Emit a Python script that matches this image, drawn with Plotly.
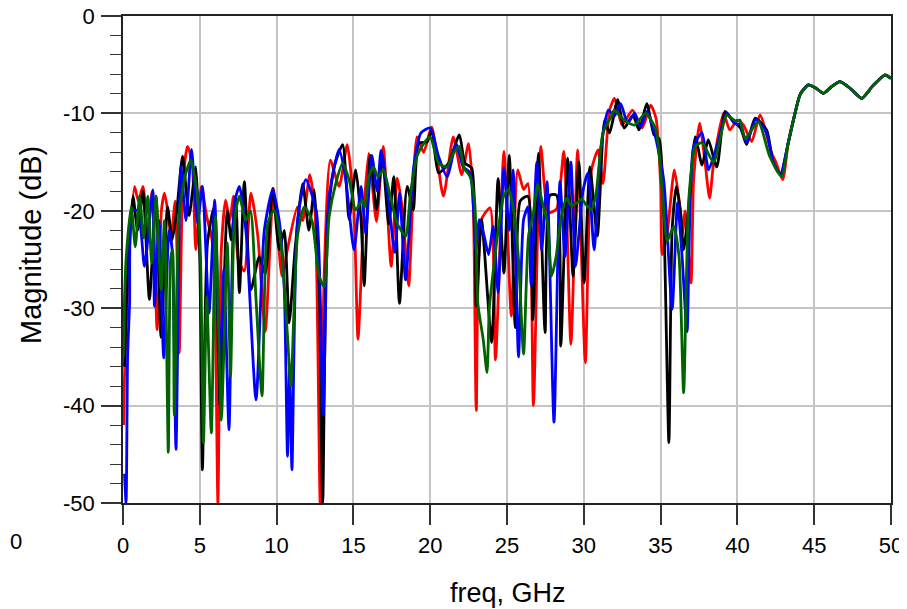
import plotly.graph_objects as go

# ---- data ----
red_f = [0.05,0.1,0.43,0.75,1.0,1.3,1.6,1.9,2.22,2.5,2.7,3.0,3.12,3.4,3.66,3.9,4.2,4.5,4.74,5.1,5.45,5.8,6.0,6.18,6.4,6.68,6.95,7.2,7.5,7.9,8.33,8.77,9.26,9.8,10.35,10.7,11.36,11.7,12.16,12.5,12.84,13.1,13.5,14.07,14.6,15.04,15.3,15.7,16.0,16.5,16.94,17.46,17.85,18.2,18.6,19.14,19.57,20.1,20.86,21.5,22.05,22.5,22.8,23.0,23.34,23.9,24.25,24.8,25.28,25.7,26.08,26.36,26.72,27.2,27.7,28.23,28.7,29.16,29.6,30.1,30.5,30.93,31.25,31.68,32.0,32.5,33.17,33.8,34.35,34.7,35.0,35.1,35.43,35.9,36.3,36.44,36.6,36.98,37.15,37.54,37.9,38.19,38.45,39.1,39.5,40.0,40.4,40.93,41.47,42.23,42.5,42.95]
red_db = [-42,-37,-23.7,-17.5,-19,-17.5,-22,-18,-32.2,-20,-18.2,-21,-23,-19,-34.6,-17,-13.4,-15,-24,-17.5,-20.6,-23,-30,-50,-24,-18.9,-21,-18.5,-25,-26.2,-18.2,-22.5,-32.4,-17.7,-26.7,-24,-19.6,-21,-16.3,-20,-50,-26.4,-14.8,-17.5,-13.2,-20.2,-33.2,-19.6,-14.1,-21.1,-13.4,-25.7,-16.65,-20,-27.7,-12.4,-14,-11.4,-18.5,-12.4,-16.3,-13.1,-19.2,-40.5,-20.9,-19.7,-35.3,-13.9,-30.8,-15.8,-17.8,-17.2,-40,-13.4,-20.2,-19.8,-13.9,-33.7,-13.75,-35.6,-15.8,-13.75,-17.2,-9.66,-8.46,-11.2,-9.66,-11.5,-9.15,-10.5,-17.2,-24.5,-22.3,-15.8,-20.2,-22.3,-20,-27.4,-16.8,-11,-15.1,-18.7,-15.1,-10,-11.7,-10.7,-11.2,-12.9,-10.16,-14.1,-15,-16.8]

black_f = [0.1,0.2,0.45,0.65,0.95,1.3,1.72,2.15,2.48,2.9,3.2,3.5,3.88,4.3,4.74,5.0,5.17,5.5,5.93,6.31,6.79,7.05,7.33,7.58,7.9,8.33,8.87,9.26,9.74,10.17,10.5,10.82,11.2,11.7,12.1,12.45,12.77,13.0,13.3,13.75,14.3,14.72,15.15,15.5,15.7,16.1,16.5,16.88,17.3,17.63,18.0,18.5,18.9,19.25,19.8,20.1,20.54,21.2,21.9,22.26,22.7,23.0,23.34,24.0,24.42,24.8,25.15,25.54,25.86,26.36,26.68,27.05,27.48,27.8,28.23,28.5,28.94,29.3,29.68,30.02,30.4,30.88,31.36,31.68,32.2,32.63,33.2,33.6,34.1,34.57,34.9,35.2,35.54,35.75,36.03,36.3,36.5,36.8,37.26,37.7,38.1,38.66,39.2,39.74,40.2,40.6,41.15,41.9,42.34,42.8]
black_db = [-36,-30.5,-22,-18.5,-22,-18,-29.1,-18.5,-33,-19.6,-23,-20,-14.4,-20.5,-15.5,-25,-46.6,-23.3,-19.6,-40,-20,-23,-18.5,-28.4,-17,-28.1,-24.7,-26.5,-17.7,-24,-22,-31.5,-24,-17.2,-22,-17.85,-27.4,-50,-21.3,-15.5,-13.2,-20.9,-15.8,-21,-27.7,-14.3,-19.9,-14.3,-21.4,-16.5,-29.5,-17.5,-19.9,-13.1,-12.9,-11.7,-16.1,-15.1,-12.2,-15.1,-15.6,-29.8,-20.9,-33.5,-16.7,-26.4,-14.3,-32,-19,-18.5,-31.2,-14.1,-32.5,-18.4,-18.4,-33.9,-14.6,-26.7,-15,-27.4,-15.5,-22.6,-10.7,-12,-8.6,-11.5,-10.2,-11.7,-9,-12.2,-12.6,-20.2,-43.8,-22,-17.5,-20.2,-24,-20.2,-12.4,-15.3,-12.7,-15.5,-9.8,-10.85,-11.5,-13.2,-10.5,-11.7,-15.1,-16.3]

blue_f = [0.1,0.2,0.3,0.43,0.6,0.97,1.4,1.94,2.05,2.35,2.65,3.0,3.2,3.45,3.77,4.1,4.46,4.85,5.17,5.6,5.97,6.31,6.57,6.9,7.26,7.58,8.0,8.66,9.2,9.74,10.17,10.5,10.71,10.85,11.0,11.36,11.9,12.6,13.03,13.42,14.07,14.5,15.04,15.5,15.8,16.2,16.55,16.8,17.2,17.7,18.0,18.4,18.92,19.4,20.0,20.54,21.1,21.7,22.15,22.6,22.97,23.2,23.5,23.8,24.1,24.42,24.8,25.15,25.4,25.75,26.08,26.36,26.57,26.94,27.26,27.6,28.06,28.45,28.77,29.16,29.46,29.96,30.28,30.67,31.1,31.6,31.98,32.4,32.85,33.3,33.7,34.1,34.6,35.2,35.75,36.1,36.4,36.72,37.15,37.7,38.12,38.66,39.3,39.8,40.2,40.6,41.2,41.9,42.3,42.8]
blue_db = [-47,-50,-35,-29.5,-20,-20,-25.7,-17.85,-29.8,-21,-35.1,-22,-24,-44.5,-15.5,-21,-13.7,-21.3,-17.5,-30.5,-18.9,-36,-26,-42.5,-19.2,-17.5,-22,-39.4,-22,-17.85,-21,-28,-45.2,-36,-46.6,-21,-16.8,-20.2,-41,-18.5,-13.7,-16.8,-24,-17.5,-22.3,-14.3,-18,-13.8,-17.8,-24.3,-18.2,-27.1,-15.6,-12,-11.5,-14.4,-16.5,-13.1,-15.5,-16.1,-24,-20.9,-22.5,-24.5,-21.6,-28.4,-15.6,-22,-15.8,-35,-20.9,-19.6,-27.7,-15,-24,-17,-41.7,-17,-24.7,-15,-25.7,-17.85,-16.1,-24,-13.75,-9.66,-10.3,-9,-11,-10,-11.4,-9.8,-12,-16.8,-30.1,-19.2,-24.7,-32.4,-13.4,-12,-15.8,-13.4,-10,-11,-11.2,-13,-10.6,-12,-14.8,-16.3]

green_f = [0.02,0.1,0.2,0.54,0.8,1.08,1.35,1.62,1.87,2.15,2.48,2.7,2.95,3.1,3.23,3.34,3.66,4.1,4.42,4.85,5.05,5.24,5.45,5.75,6.03,6.4,6.79,7.0,7.22,7.4,7.58,8.0,8.3,8.66,9.05,9.42,9.85,10.28,10.71,10.93,11.36,11.8,12.3,12.77,13.1,13.42,13.85,14.3,14.72,15.15,15.58,15.75,16.0,16.3,16.6,16.95,17.4,17.85,18.4,18.7,19.14,19.57,20.0,20.54,21.08,21.5,21.9,22.2,22.6,22.9,23.1,23.45,23.7,23.85,24.14,24.46,24.78,25.1,25.43,25.75,26.08,26.4,26.72,27.0,27.35,27.65,27.9,28.2,28.5,28.88,29.2,29.55,29.85,30.17,30.5,30.8,31.25,31.8,31.98,32.63,33.3,34.03,34.7,35.1,35.43,35.86,36.2,36.5,36.83,37.26,37.7,38.45,39.3,39.9,40.17,40.5,41.36,42.1,42.88]
green_db = [-35,-29,-25,-19.6,-23.7,-18.5,-22.8,-18.5,-25.4,-18.5,-28.1,-21,-44.8,-25,-24,-41,-20.2,-16.1,-14.8,-18.5,-25,-43.8,-28.8,-42.8,-20.6,-41.5,-23.3,-37,-22,-19.5,-18.5,-21,-20,-29.1,-39,-21.3,-19.9,-23.3,-32.9,-38,-22.6,-19.6,-21,-26.7,-27.8,-20.6,-17.2,-15.1,-16.8,-19.9,-18.9,-19.6,-16.5,-15.5,-16.5,-15.8,-18.5,-21.3,-22.6,-18.5,-14.4,-13.1,-12.4,-15.1,-15.5,-14.1,-13.4,-15.6,-16.5,-19.2,-29.5,-33.2,-36.6,-30,-25.7,-21.6,-18.5,-17.8,-19.9,-25,-34.7,-22.6,-20.2,-17.3,-19.5,-21.3,-26.7,-24.7,-20.9,-18.7,-19.5,-19.2,-18.8,-19.4,-19.9,-18.2,-12,-10.3,-9.66,-10.7,-11.2,-10,-11.7,-17.8,-23.1,-21.6,-24.7,-38.7,-18.9,-13.4,-13,-15,-10.2,-10.8,-10.7,-12.6,-10.85,-14.4,-16.5]

# common part above 43 GHz where all four traces coincide
tail_f = [43.3,43.75,44.1,44.62,45.1,45.6,46.1,46.68,47.4,48.09,48.8,49.6,50.0]
tail_db = [-13.1,-10,-8,-7.08,-7.4,-7.94,-7.3,-6.74,-7.5,-8.45,-7.2,-6.06,-6.4]

x_ticks = [0, 5, 10, 15, 20, 25, 30, 35, 40, 45, 50]
y_ticks = [-50, -40, -30, -20, -10, 0]

series = [
    ("red", red_f, red_db, "#FF0000"),
    ("black", black_f, black_db, "#000000"),
    ("blue", blue_f, blue_db, "#0000FF"),
    ("green", green_f, green_db, "#006400"),
]

fig = go.Figure()
for name, f, db, col in series:
    fig.add_trace(go.Scatter(
        x=f + tail_f, y=db + tail_db, mode="lines", name=name,
        line=dict(color=col, width=2.8, shape="spline", smoothing=0.6),
        showlegend=False, cliponaxis=True))

font = dict(family="Liberation Sans, Arial, sans-serif", color="black")

# the page body adds an 8 px offset; the figure is sized so the plot
# lands at viewport x 123..891, y 16..503
OFF = 8
W, H = 907 - OFF, 609 - OFF
L, T = 123 - OFF, 16 - OFF
R = (W + OFF) - 891
B = (H + OFF) - 503
pw, ph = W - L - R, H - T - B


def px(xv):  # viewport x -> paper x
    return (xv - OFF - L) / pw


def py(yv):  # viewport y -> paper y
    return 1 - (yv - OFF - T) / ph


fig.update_layout(
    width=W, height=H,
    margin=dict(l=L, r=R, t=T, b=B, autoexpand=False),
    paper_bgcolor="white", plot_bgcolor="white",
    font=dict(**font, size=22),
    xaxis=dict(
        range=[0, 50], tickvals=x_ticks, ticktext=[str(v) for v in x_ticks],
        showgrid=True, gridcolor="#c4c4c4", gridwidth=1.5,
        showline=True, linecolor="#222222", linewidth=1.5, mirror=True,
        ticks="outside", ticklen=20, tickcolor="#333333", tickwidth=1.5,
        ticklabelstandoff=2, zeroline=False, automargin=False,
        ticklabeloverflow="allow",
        tickfont=dict(**font, size=22),
    ),
    yaxis=dict(
        range=[-50, 0], tickvals=y_ticks, ticktext=[str(v) for v in y_ticks],
        showgrid=True, gridcolor="#c4c4c4", gridwidth=1.5,
        showline=True, linecolor="#222222", linewidth=1.5, mirror=True,
        ticks="outside", ticklen=20, tickcolor="#333333", tickwidth=1.5,
        ticklabelstandoff=2, zeroline=False, automargin=False,
        ticklabeloverflow="allow",
        tickfont=dict(**font, size=22),
        minor=dict(dtick=2, ticks="outside", ticklen=11, tickcolor="#333333",
                   tickwidth=1.2, showgrid=False),
    ),
    annotations=[
        dict(text="freq, GHz", xref="paper", yref="paper",
             x=px(508), y=py(593),
             xanchor="center", yanchor="middle", showarrow=False,
             font=dict(**font, size=27)),
        dict(text="Magnitude (dB)", xref="paper", yref="paper",
             x=px(31), y=py(245), textangle=-90,
             xanchor="center", yanchor="middle", showarrow=False,
             font=dict(**font, size=29)),
        dict(text="0", xref="paper", yref="paper",
             x=px(OFF), y=py(541),
             xanchor="left", yanchor="middle", showarrow=False,
             font=dict(**font, size=22)),
    ],
)

fig.write_html("out.html")
